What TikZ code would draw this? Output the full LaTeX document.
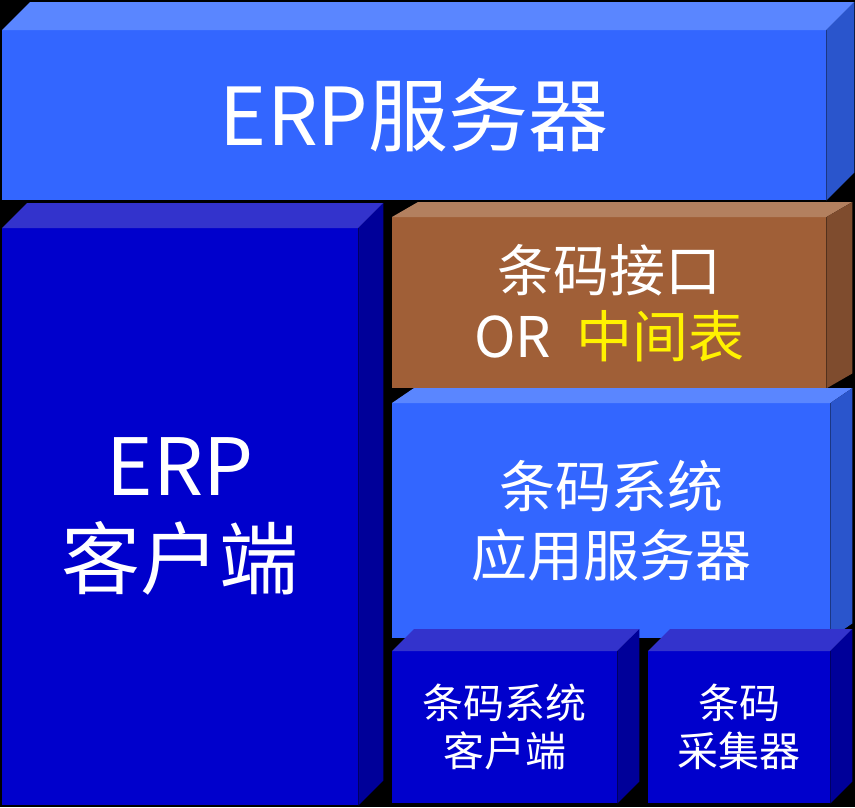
\documentclass[tikz,border=0pt]{standalone}
\usepackage{fontspec}
\newfontfamily\cjk{Noto Sans CJK SC}
\definecolor{lblue}{HTML}{3366FF}
\definecolor{lbluetop}{HTML}{5A86FF}
\definecolor{lblueside}{HTML}{2A55CC}
\definecolor{dblue}{HTML}{0000CC}
\definecolor{dbluetop}{HTML}{3333CC}
\definecolor{dblueside}{HTML}{000099}
\definecolor{brown}{HTML}{A05F37}
\definecolor{browntop}{HTML}{B3805F}
\definecolor{brownside}{HTML}{7F4C2E}
\tikzset{
    block/.style={inner sep=0pt, anchor=north west, text=white, align=center, font=\cjk},
}
\begin{document}
\begin{tikzpicture}[x=1pt, y=1pt]
    \fill[black] (0,0) rectangle (855,-807);
    \useasboundingbox (0,0) rectangle (855,-807);

    \node[block, fill=lblue, minimum width=824pt, minimum height=170pt, font=\cjk\fontsize{80}{90}\selectfont] (erpserver) at (2,-30) {ERP服务器};
    \fill[lbluetop] (erpserver.north west) -- ++(28,28) -- ([shift={(28,28)}]erpserver.north east) -- (erpserver.north east) -- cycle;
    \fill[lblueside] (erpserver.north east) -- ++(28,28) -- ([shift={(28,28)}]erpserver.south east) -- (erpserver.south east) -- cycle;

    \node[block, fill=dblue, minimum width=356pt, minimum height=577pt, font=\cjk\fontsize{79}{93}\selectfont] (erpclient) at (2,-228) {ERP\\客户端};
    \fill[dbluetop] (erpclient.north west) -- ++(25,25) -- ([shift={(25,25)}]erpclient.north east) -- (erpclient.north east) -- cycle;
    \fill[dblueside] (erpclient.north east) -- ++(25,25) -- ([shift={(25,25)}]erpclient.south east) -- (erpclient.south east) -- cycle;

    \node[block, fill=brown, minimum width=434pt, minimum height=171pt, font=\cjk\fontsize{56}{66}\selectfont] (iface) at (392,-217) {条码接口\\OR\ \ \textcolor{yellow}{中间表}};
    \fill[browntop] (iface.north west) -- ++(26,15) -- ([shift={(26,15)}]iface.north east) -- (iface.north east) -- cycle;
    \fill[brownside] (iface.north east) -- ++(26,15) -- ([shift={(26,15)}]iface.south east) -- (iface.south east) -- cycle;

    \node[block, fill=lblue, minimum width=438pt, minimum height=235pt, font=\cjk\fontsize{56}{69}\selectfont] (appserver) at (392,-403) {条码系统\\应用服务器};
    \fill[lbluetop] (appserver.north west) -- ++(22,15) -- ([shift={(22,15)}]appserver.north east) -- (appserver.north east) -- cycle;
    \fill[lblueside] (appserver.north east) -- ++(22,15) -- ([shift={(22,15)}]appserver.south east) -- (appserver.south east) -- cycle;

    \node[block, fill=dblue, minimum width=225pt, minimum height=152pt, font=\cjk\fontsize{41}{48}\selectfont] (bcclient) at (392,-651) {条码系统\\客户端};
    \fill[dbluetop] (bcclient.north west) -- ++(22,22) -- ([shift={(22,22)}]bcclient.north east) -- (bcclient.north east) -- cycle;
    \fill[dblueside] (bcclient.north east) -- ++(22,22) -- ([shift={(22,22)}]bcclient.south east) -- (bcclient.south east) -- cycle;

    \node[block, fill=dblue, minimum width=182pt, minimum height=152pt, font=\cjk\fontsize{41}{48}\selectfont] (collector) at (648,-651) {条码\\采集器};
    \fill[dbluetop] (collector.north west) -- ++(22,22) -- ([shift={(22,22)}]collector.north east) -- (collector.north east) -- cycle;
    \fill[dblueside] (collector.north east) -- ++(22,22) -- ([shift={(22,22)}]collector.south east) -- (collector.south east) -- cycle;
\end{tikzpicture}
\end{document}
